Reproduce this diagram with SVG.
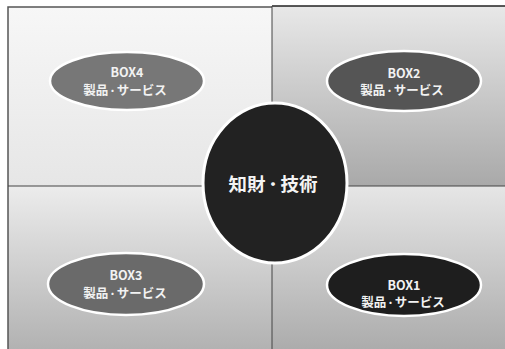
<svg xmlns="http://www.w3.org/2000/svg" width="505" height="349" viewBox="0 0 505 349">
<defs>
<linearGradient id="gTL" x1="0" y1="0" x2="0" y2="1"><stop offset="0" stop-color="#f7f7f7"/><stop offset="1" stop-color="#e6e6e6"/></linearGradient>
<linearGradient id="gTR" x1="0" y1="0" x2="0" y2="1"><stop offset="0" stop-color="#e8e8e8"/><stop offset="1" stop-color="#a9a9a9"/></linearGradient>
<linearGradient id="gBL" x1="0" y1="0" x2="0" y2="1"><stop offset="0" stop-color="#ececec"/><stop offset="1" stop-color="#b2b2b2"/></linearGradient>
<linearGradient id="gBR" x1="0" y1="0" x2="0" y2="1"><stop offset="0" stop-color="#e6e6e6"/><stop offset="1" stop-color="#acacac"/></linearGradient>
</defs>
<style>
.ell{stroke:#fff;stroke-width:2.5}
.t1{font-family:"Noto Sans CJK JP","Noto Sans",sans-serif;font-weight:bold;font-size:12.5px;fill:#f2f2f2;text-anchor:middle}
.t2{font-family:"Noto Sans CJK JP",sans-serif;font-weight:bold;font-size:12.5px;fill:#f2f2f2;text-anchor:middle}
.d2{font-size:8.5px}
.tc{font-family:"Noto Sans CJK JP",sans-serif;font-weight:bold;font-size:18.5px;fill:#f4f4f4;text-anchor:middle}
.dc{font-size:15px}
</style>
<rect width="505" height="349" fill="#ffffff"/>
<g id="quadrants">
<rect x="8" y="7" width="264" height="179" fill="url(#gTL)"/>
<rect x="272" y="6" width="233" height="180" fill="url(#gTR)"/>
<rect x="8" y="186" width="264" height="163" fill="url(#gBL)"/>
<rect x="272" y="186" width="233" height="163" fill="url(#gBR)"/>
<path d="M8 349 V7 H272" fill="none" stroke="#555" stroke-width="1.5"/>
<path d="M272 6 H505" fill="none" stroke="#222" stroke-width="1.5"/>
<path d="M272 6 V349 M8 186 H505" fill="none" stroke="#444" stroke-width="1"/>
</g>
<g id="box4">
<ellipse class="ell" cx="127" cy="81" rx="77" ry="29" fill="#777777"/>
<text class="t1" x="127" y="77">BOX4</text>
<text class="t2" x="125" y="95">製品<tspan class="d2" dy="-1.5">・</tspan><tspan dy="1.5">サービス</tspan></text>
</g>
<g id="box2">
<ellipse class="ell" cx="404" cy="81" rx="77" ry="30" fill="#555555"/>
<text class="t1" x="404" y="78">BOX2</text>
<text class="t2" x="402" y="95">製品<tspan class="d2" dy="-1.5">・</tspan><tspan dy="1.5">サービス</tspan></text>
</g>
<g id="box3">
<ellipse class="ell" cx="126" cy="284" rx="78" ry="31" fill="#6a6a6a"/>
<text class="t1" x="126" y="280">BOX3</text>
<text class="t2" x="125" y="298">製品<tspan class="d2" dy="-1.5">・</tspan><tspan dy="1.5">サービス</tspan></text>
</g>
<g id="box1">
<ellipse class="ell" cx="404" cy="285" rx="77" ry="31" fill="#1e1e1e"/>
<text class="t1" x="404" y="290">BOX1</text>
<text class="t2" x="403" y="307">製品<tspan class="d2" dy="-1.5">・</tspan><tspan dy="1.5">サービス</tspan></text>
</g>
<g id="center">
<ellipse cx="275" cy="183" rx="72" ry="80" fill="#222222" stroke="#fff" stroke-width="3"/>
<text class="tc" x="273" y="191">知財<tspan class="dc" dy="-1.5">・</tspan><tspan dy="1.5">技術</tspan></text>
</g>
</svg>
